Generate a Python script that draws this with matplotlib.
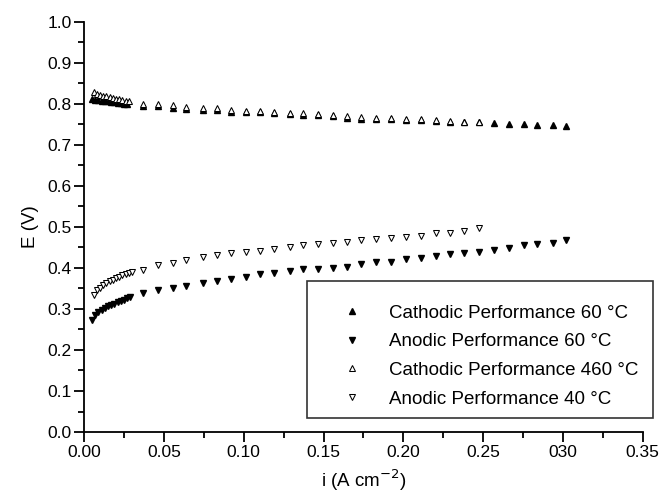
import matplotlib
matplotlib.use("Agg")
import matplotlib.pyplot as plt
from matplotlib.ticker import MultipleLocator

plt.rcParams['font.family'] = ['Liberation Sans', 'DejaVu Sans']

# cathodic performance 60 C (filled up triangles)
cath60_x = [0.005, 0.007, 0.009, 0.011, 0.013, 0.015, 0.017, 0.019, 0.021, 0.023, 0.025, 0.027,
            0.037, 0.0465, 0.056, 0.064, 0.0746, 0.083, 0.092, 0.1017, 0.11, 0.119, 0.129, 0.137,
            0.1465, 0.156, 0.165, 0.1735, 0.183, 0.192, 0.2017, 0.211, 0.2204, 0.229, 0.238, 0.2475,
            0.257, 0.2663, 0.2756, 0.284, 0.2935, 0.302]
cath60_y = [0.812, 0.810, 0.809, 0.808, 0.807, 0.806, 0.805, 0.804, 0.803, 0.802, 0.800, 0.799,
            0.795, 0.795, 0.790, 0.788, 0.785, 0.785, 0.781, 0.780, 0.779, 0.777, 0.776, 0.773,
            0.772, 0.770, 0.766, 0.764, 0.764, 0.762, 0.761, 0.760, 0.758, 0.757, 0.756, 0.755,
            0.753, 0.751, 0.750, 0.749, 0.748, 0.746]

# anodic performance 60 C (filled down triangles)
an60_x = [0.005, 0.007, 0.009, 0.011, 0.013, 0.015, 0.017, 0.019, 0.021, 0.023, 0.025, 0.027, 0.029,
          0.037, 0.0465, 0.056, 0.064, 0.0746, 0.083, 0.092, 0.1017, 0.11, 0.119, 0.129, 0.137,
          0.1465, 0.156, 0.165, 0.1735, 0.183, 0.192, 0.2017, 0.211, 0.2204, 0.229, 0.238, 0.2475,
          0.257, 0.2663, 0.2756, 0.284, 0.2935, 0.302]
an60_y = [0.272, 0.285, 0.292, 0.297, 0.302, 0.306, 0.309, 0.313, 0.316, 0.319, 0.322, 0.326, 0.330,
          0.338, 0.346, 0.350, 0.357, 0.364, 0.369, 0.373, 0.379, 0.385, 0.387, 0.393, 0.397,
          0.397, 0.399, 0.403, 0.409, 0.415, 0.415, 0.421, 0.425, 0.429, 0.433, 0.436, 0.440,
          0.444, 0.448, 0.456, 0.458, 0.462, 0.467]

# cathodic performance "460" C (open up triangles)
cath460_x = [0.006, 0.008, 0.010, 0.012, 0.014, 0.016, 0.018, 0.020, 0.022, 0.024, 0.026, 0.028,
             0.037, 0.0465, 0.056, 0.064, 0.0746, 0.083, 0.092, 0.1017, 0.11, 0.119, 0.129, 0.137,
             0.1465, 0.156, 0.165, 0.1735, 0.183, 0.192, 0.2017, 0.211, 0.2204, 0.229, 0.238, 0.2475]
cath460_y = [0.828, 0.825, 0.822, 0.820, 0.818, 0.817, 0.815, 0.813, 0.812, 0.810, 0.808, 0.806,
             0.800, 0.800, 0.797, 0.793, 0.790, 0.789, 0.786, 0.783, 0.782, 0.780, 0.778, 0.777,
             0.775, 0.772, 0.770, 0.768, 0.766, 0.765, 0.763, 0.762, 0.760, 0.759, 0.757, 0.755]

# anodic performance 40 C (open down triangles)
an40_x = [0.006, 0.008, 0.010, 0.012, 0.014, 0.016, 0.018, 0.020, 0.022, 0.024, 0.026, 0.028, 0.030,
          0.037, 0.0465, 0.056, 0.064, 0.0746, 0.083, 0.092, 0.1017, 0.11, 0.119, 0.129, 0.137,
          0.1465, 0.156, 0.165, 0.1735, 0.183, 0.192, 0.2017, 0.211, 0.2204, 0.229, 0.238, 0.2475]
an40_y = [0.334, 0.345, 0.352, 0.358, 0.363, 0.367, 0.371, 0.375, 0.379, 0.382, 0.385, 0.388, 0.391,
          0.395, 0.407, 0.411, 0.420, 0.426, 0.432, 0.436, 0.438, 0.441, 0.446, 0.450, 0.455,
          0.459, 0.461, 0.464, 0.467, 0.470, 0.472, 0.475, 0.479, 0.485, 0.486, 0.491, 0.497]

xtick_vals = [0.00, 0.05, 0.10, 0.15, 0.20, 0.25, 0.30, 0.35]
xtick_labels = ['0.00', '0.05', '0.10', '0.15', '0.20', '0.25', '030', '0.35']

fig = plt.figure(figsize=(6.62, 4.96), dpi=100)
ax = fig.add_axes([0.127, 0.129, 0.844, 0.827])

ms = 4.8
ax.plot(cath60_x, cath60_y, '^', color='black', ms=ms, mec='black', label='Cathodic Performance 60 \u00b0C')
ax.plot(an60_x, an60_y, 'v', color='black', ms=ms, mec='black', label='Anodic Performance 60 \u00b0C')
ax.plot(cath460_x, cath460_y, '^', mfc='white', mec='black', ms=ms, mew=0.75,
        label='Cathodic Performance 460 \u00b0C')
ax.plot(an40_x, an40_y, 'v', mfc='white', mec='black', ms=ms, mew=0.75,
        label='Anodic Performance 40 \u00b0C')

ax.set_xlim(0, 0.35)
ax.set_ylim(0, 1.0)
ax.set_xticks(xtick_vals)
ax.set_xticklabels(xtick_labels)
ax.yaxis.set_major_locator(MultipleLocator(0.1))
ax.xaxis.set_minor_locator(MultipleLocator(0.025))
ax.yaxis.set_minor_locator(MultipleLocator(0.05))
ax.yaxis.set_major_formatter(matplotlib.ticker.FormatStrFormatter('%.1f'))

for s in ['top', 'right']:
    ax.spines[s].set_visible(False)
for s in ['left', 'bottom']:
    ax.spines[s].set_linewidth(1.3)
ax.tick_params(which='major', direction='out', length=7, width=1.3, labelsize=12.5, pad=2)
ax.tick_params(which='minor', direction='out', length=4, width=1.3)

ax.set_xlabel('i (A cm$^{-2}$)', fontsize=13.5, labelpad=6)
ax.set_ylabel('E (V)', fontsize=13.5, labelpad=6)

# tiny blank title gives the extra room above the first entry, as in the original
leg = ax.legend(loc='lower left', bbox_to_anchor=(0.399, 0.034, 0.619, 0.33), mode='expand',
                fontsize=13.5, numpoints=1, title=' ', title_fontsize=1,
                frameon=True, fancybox=False, edgecolor='black', borderpad=0.55,
                handlelength=3.7, handletextpad=0.1, labelspacing=0.62, borderaxespad=0)
leg.get_frame().set_linewidth(1.2)

fig.savefig('out.png', dpi=100)
